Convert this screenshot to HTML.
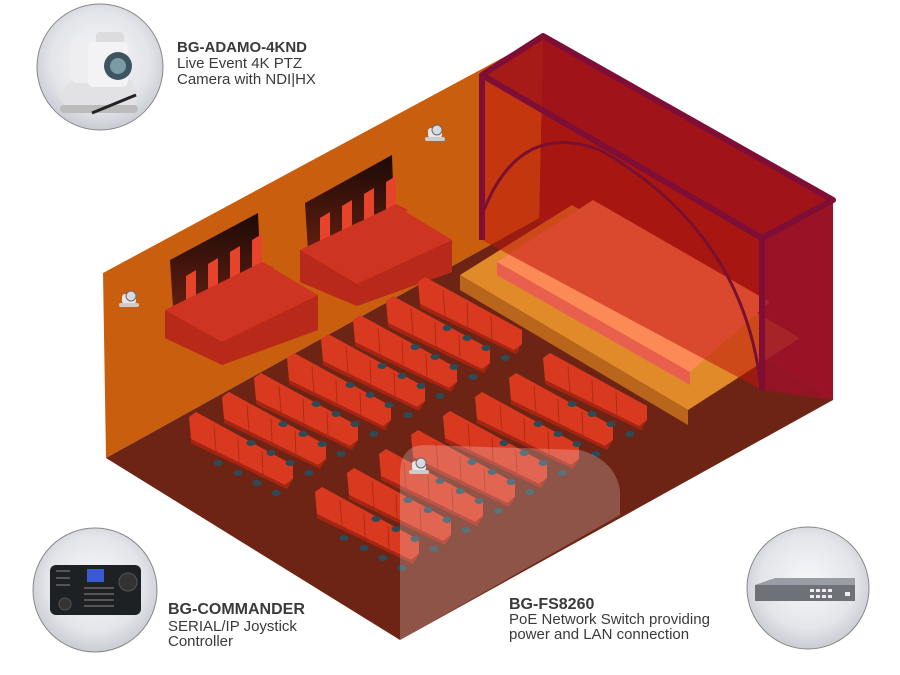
<!DOCTYPE html>
<html><head><meta charset="utf-8"><style>
html,body{margin:0;padding:0;background:#fff;width:900px;height:675px;overflow:hidden}
text{font-family:"Liberation Sans",sans-serif}
</style></head><body>
<svg width="900" height="675" viewBox="0 0 900 675" xmlns="http://www.w3.org/2000/svg">
<defs>
<radialGradient id="cg" cx="50%" cy="45%" r="55%"><stop offset="0" stop-color="#f6f7f9"/><stop offset="0.7" stop-color="#e3e5ea"/><stop offset="1" stop-color="#c9ccd3"/></radialGradient>
<linearGradient id="boxg" x1="0" y1="0" x2="0" y2="1"><stop offset="0" stop-color="#1c0a06"/><stop offset="1" stop-color="#7a2514"/></linearGradient>
<g id="row">
<polygon points="0,0 7,-5 104,48 104,62 96,68 2,22" fill="#d93a1f"/>
<polygon points="2,22 96,68 104,62 98,72 2,26" fill="#a82412"/>
<line x1="25" y1="8" x2="27" y2="34" stroke="#b22a15" stroke-width="1"/>
<line x1="49" y1="21" x2="50" y2="46" stroke="#b22a15" stroke-width="1"/>
<line x1="73" y1="34" x2="74" y2="58" stroke="#b22a15" stroke-width="1"/>
<ellipse cx="29" cy="46" rx="4.5" ry="3" fill="#2c4b57"/>
<ellipse cx="49" cy="56" rx="4.5" ry="3" fill="#2c4b57"/>
<ellipse cx="68" cy="66" rx="4.5" ry="3" fill="#2c4b57"/>
<ellipse cx="87" cy="76" rx="4.5" ry="3" fill="#2c4b57"/>
</g>
<g id="minicam">
<rect x="0" y="6" width="14" height="10" rx="3" fill="#e8e8ea"/>
<circle cx="9" cy="8" r="5" fill="#d8dadf" stroke="#666" stroke-width="1"/>
<rect x="-3" y="15" width="20" height="4" rx="2" fill="#ccc"/>
</g>
<g id="seat">
<polygon points="0,4 10,-2 10,26 0,32" fill="#e5442a"/>
<polygon points="0,32 10,26 22,32 12,38" fill="#c9301c"/>
</g>
</defs>

<!-- room -->
<polygon points="103,273 543,36 539,218 106,458" fill="#c95f0e"/>
<polygon points="106,458 539,218 833,400 400,640" fill="#6e2414"/>
<polygon points="543,36 833,200 833,400 539,218" fill="#8a1a14"/>

<!-- stage -->
<polygon points="460,275 572,205 800,338 688,410" fill="#e08a2a"/>
<polygon points="460,275 460,290 688,425 688,410" fill="#b9651c"/>
<polygon points="497,262 593,200 770,302 690,372" fill="#fb8a56"/>
<polygon points="497,262 497,275 690,385 690,372" fill="#e8604d"/>

<!-- red stage box -->
<polygon points="482,75 543,36 833,200 762,238" fill="#a2141a" opacity="0.9"/>
<polygon points="482,75 762,238 762,390 482,240" fill="#c0140c" opacity="0.55"/>
<polygon points="762,238 833,200 833,400 762,390" fill="#9b1228" opacity="0.85"/>
<path d="M484,210 Q520,120 600,150 Q740,230 760,380" fill="none" stroke="#7a1030" stroke-width="3"/>
<polyline points="482,240 482,75 543,36 833,200 762,238 482,75" fill="none" stroke="#7e0e36" stroke-width="6" stroke-linejoin="round"/>
<line x1="762" y1="238" x2="762" y2="390" stroke="#7e0e36" stroke-width="6"/>

<!-- balconies -->
<polygon points="170,260 258,213 262,300 175,340" fill="url(#boxg)"/>
<use href="#seat" x="186" y="272"/>
<use href="#seat" x="208" y="260"/>
<use href="#seat" x="230" y="248"/>
<use href="#seat" x="252" y="236"/>
<polygon points="165,310 175,305 262,262 318,295 318,330 222,365 165,338" fill="#cd3422"/>
<polygon points="165,310 222,342 318,295 318,330 222,365 165,338" fill="#b8291a"/>
<polygon points="305,203 392,155 395,242 310,283" fill="url(#boxg)"/>
<use href="#seat" x="320" y="214"/>
<use href="#seat" x="342" y="202"/>
<use href="#seat" x="364" y="190"/>
<use href="#seat" x="386" y="178"/>
<polygon points="300,250 395,205 452,240 452,272 357,306 300,282" fill="#cd3422"/>
<polygon points="300,250 357,284 452,240 452,272 357,306 300,282" fill="#b8291a"/>
<use href="#minicam" x="122" y="288"/>
<use href="#minicam" x="428" y="122"/>

<!-- rows left block -->
<use href="#row" x="189" y="417"/>
<use href="#row" x="222" y="397"/>
<use href="#row" x="254" y="378"/>
<use href="#row" x="287" y="358"/>
<use href="#row" x="321" y="339"/>
<use href="#row" x="353" y="320"/>
<use href="#row" x="386" y="301"/>
<use href="#row" x="418" y="282"/>
<!-- rows right block -->
<use href="#row" x="315" y="492"/>
<use href="#row" x="347" y="473"/>
<use href="#row" x="379" y="454"/>
<use href="#row" x="411" y="435"/>
<use href="#row" x="443" y="416"/>
<use href="#row" x="475" y="397"/>
<use href="#row" x="509" y="378"/>
<use href="#row" x="543" y="358"/>

<!-- camera glow -->
<path d="M400,475 Q400,445 425,445 L580,450 Q615,460 620,490 L620,515 L400,640 Z" fill="#ffffff" opacity="0.22"/>
<use href="#minicam" x="412" y="455"/>

<!-- circles -->
<circle cx="100" cy="67" r="63" fill="url(#cg)" stroke="#888" stroke-width="1"/>
<g>
<path d="M58,95 L72,80 L132,80 L138,95 L132,112 L70,112 Z" fill="#e2e2e4"/>
<rect x="60" y="105" width="78" height="8" rx="4" fill="#bbb"/>
<line x1="92" y1="113" x2="136" y2="95" stroke="#222" stroke-width="3"/>
<rect x="70" y="38" width="30" height="45" rx="8" fill="#eeeef0"/>
<rect x="96" y="32" width="28" height="12" rx="4" fill="#dcdcde"/>
<rect x="88" y="42" width="40" height="45" rx="6" fill="#f3f3f5"/>
<circle cx="118" cy="66" r="14" fill="#3d5560"/>
<circle cx="118" cy="66" r="8" fill="#7a9aa5"/>
</g>
<circle cx="95" cy="590" r="62" fill="url(#cg)" stroke="#888" stroke-width="1"/>
<g>
<rect x="50" y="565" width="91" height="50" rx="6" fill="#1e2124"/>
<rect x="87" y="569" width="17" height="13" fill="#3a5ad0"/>
<circle cx="128" cy="582" r="9" fill="#333" stroke="#555"/>
<circle cx="65" cy="604" r="6" fill="#333" stroke="#555"/>
<g fill="#555"><rect x="84" y="587" width="30" height="2"/><rect x="84" y="593" width="30" height="2"/><rect x="84" y="599" width="30" height="2"/><rect x="84" y="605" width="30" height="2"/><rect x="56" y="570" width="14" height="2"/><rect x="56" y="577" width="14" height="2"/><rect x="56" y="584" width="14" height="2"/></g>
</g>
<circle cx="808" cy="588" r="61" fill="url(#cg)" stroke="#888" stroke-width="1"/>
<g>
<polygon points="755,585 775,578 855,578 855,585" fill="#9a9ea4"/>
<rect x="755" y="585" width="100" height="16" fill="#6e7278"/>
<g fill="#eee"><rect x="810" y="589" width="4" height="3"/><rect x="816" y="589" width="4" height="3"/><rect x="822" y="589" width="4" height="3"/><rect x="828" y="589" width="4" height="3"/><rect x="810" y="595" width="4" height="3"/><rect x="816" y="595" width="4" height="3"/><rect x="822" y="595" width="4" height="3"/><rect x="828" y="595" width="4" height="3"/><rect x="845" y="592" width="5" height="4"/></g>
</g>

<!-- labels -->
<text x="177" y="52" font-size="15" font-weight="bold" fill="#3a3a3a">BG-ADAMO-4KND</text>
<text x="177" y="68" font-size="15" fill="#3a3a3a">Live Event 4K PTZ</text>
<text x="177" y="84" font-size="15" fill="#3a3a3a">Camera with NDI|HX</text>
<text x="168" y="614" font-size="16" font-weight="bold" fill="#3a3a3a">BG-COMMANDER</text>
<text x="168" y="631" font-size="15" fill="#3a3a3a">SERIAL/IP Joystick</text>
<text x="168" y="646" font-size="15" fill="#3a3a3a">Controller</text>
<text x="509" y="609" font-size="16" font-weight="bold" fill="#3a3a3a">BG-FS8260</text>
<text x="509" y="624" font-size="15" fill="#3a3a3a"> PoE Network Switch providing</text>
<text x="509" y="639" font-size="15" fill="#3a3a3a">power and LAN connection</text>
</svg>
</body></html>
